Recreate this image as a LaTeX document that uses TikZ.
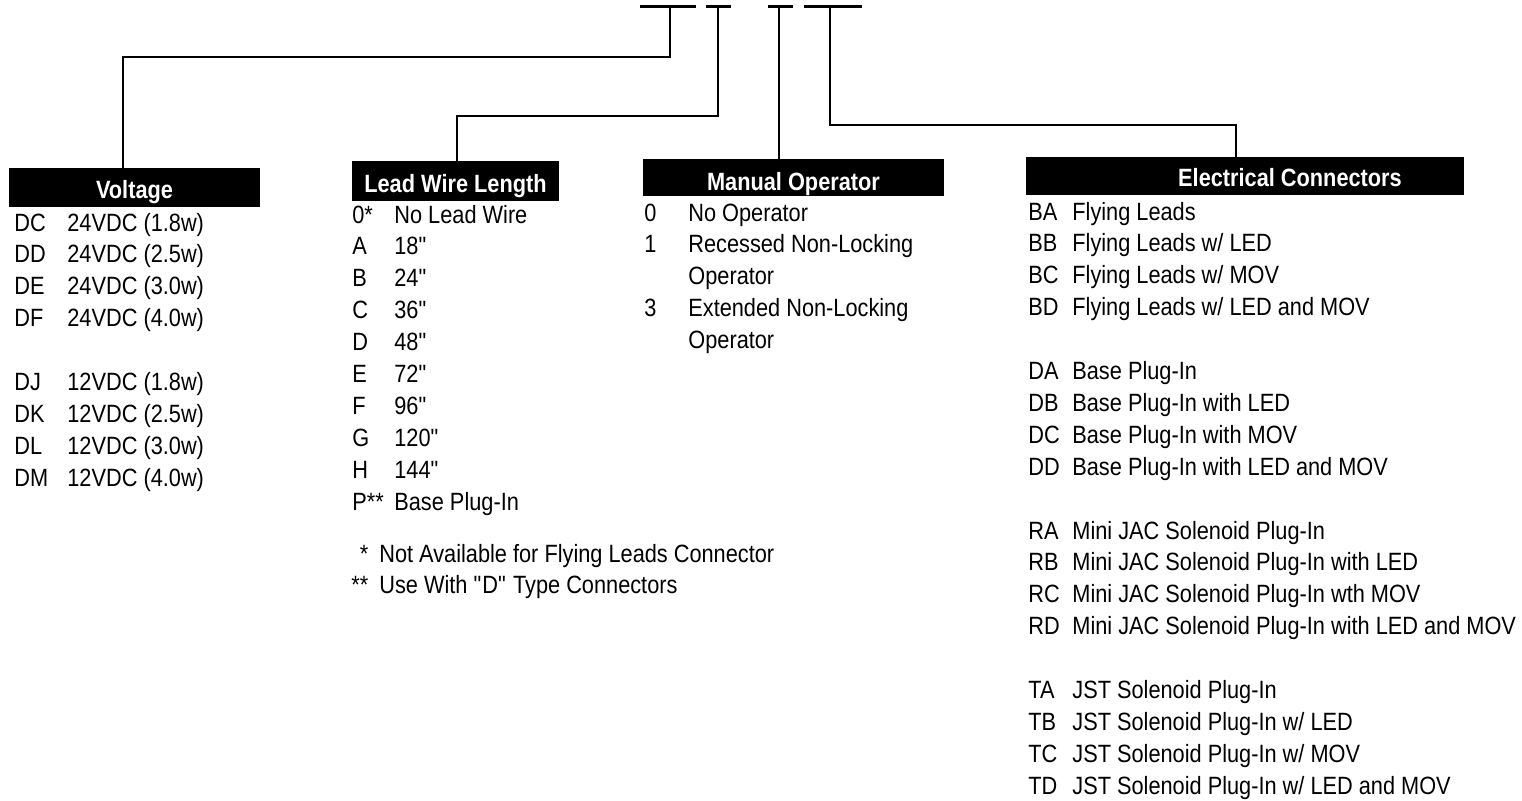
\documentclass[tikz,border=0pt]{standalone}
\usepackage{fontspec}
\setmainfont{Liberation Sans}[FakeStretch=0.87]
\usepackage{tikz}
\usetikzlibrary{positioning}
\newcommand{\listfont}{\fontsize{12.5pt}{15.95pt}\selectfont}
\newcommand{\inch}{\textquotedbl}
\tikzstyle{header} = [rectangle, fill=black, text=white, inner sep=0pt, text depth=4.5pt, font=\listfont\bfseries]
\tikzstyle{list}   = [inner sep=0pt, anchor=base west, font=\listfont]
\tikzstyle{wire}   = [line width=1.4pt, black]

\begin{document}
\begin{tikzpicture}[x=0.5pt, y=-0.5pt]
    \useasboundingbox (0,0) rectangle (1522,800);
    % headers
    \node (volt)   [header, minimum width=125.5pt, text height=15pt]   at (134.5,187.5) {Voltage};
    \node (lead)   [header, minimum width=103.5pt, text height=15.5pt] at (455.5,181)   {Lead Wire Length};
    \node (manual) [header, minimum width=150.5pt, text height=15.5pt, text depth=3pt] at (793.5,177.5) {Manual Operator};
    \node (elec)   [header, minimum width=219pt,   text height=14.5pt] at (1245,176)    {\hspace*{45pt}Electrical Connectors};
    % lists
    \node (voltlist) [list] at (14,231) {\begin{tabular}[t]{@{}p{26.5pt}@{}l@{}}
        DC & 24VDC (1.8w)\\ DD & 24VDC (2.5w)\\ DE & 24VDC (3.0w)\\ DF & 24VDC (4.0w)\\
        & \\
        DJ & 12VDC (1.8w)\\ DK & 12VDC (2.5w)\\ DL & 12VDC (3.0w)\\ DM & 12VDC (4.0w)
    \end{tabular}};
    \node (leadlist) [list] at (352,223) {\begin{tabular}[t]{@{}p{21pt}@{}l@{}}
        0* & No Lead Wire\\ A & 18\inch\\ B & 24\inch\\ C & 36\inch\\ D & 48\inch\\
        E & 72\inch\\ F & 96\inch\\ G & 120\inch\\ H & 144\inch\\ P** & Base Plug-In
    \end{tabular}};
    \node (leadnote) [list] at (351,562) {\begin{tabular}[t]{@{}r@{\hspace{5.5pt}}l@{}}
        * & Not Available for Flying Leads Connector\\
        {**} & Use With \inch D\inch{} Type Connectors
    \end{tabular}};
    \node (manuallist) [list] at (644,221) {\begin{tabular}[t]{@{}p{22pt}@{}l@{}}
        0 & No Operator\\ 1 & Recessed Non-Locking\\ & Operator\\
        3 & Extended Non-Locking\\ & Operator
    \end{tabular}};
    \node (eleclist) [list] at (1028,220) {\begin{tabular}[t]{@{}p{22pt}@{}l@{}}
        BA & Flying Leads\\ BB & Flying Leads w/ LED\\ BC & Flying Leads w/ MOV\\ BD & Flying Leads w/ LED and MOV\\
        & \\
        DA & Base Plug-In\\ DB & Base Plug-In with LED\\ DC & Base Plug-In with MOV\\ DD & Base Plug-In with LED and MOV\\
        & \\
        RA & Mini JAC Solenoid Plug-In\\ RB & Mini JAC Solenoid Plug-In with LED\\ RC & Mini JAC Solenoid Plug-In wth MOV\\ RD & Mini JAC Solenoid Plug-In with LED and MOV\\
        & \\
        TA & JST Solenoid Plug-In\\ TB & JST Solenoid Plug-In w/ LED\\ TC & JST Solenoid Plug-In w/ MOV\\ TD & JST Solenoid Plug-In w/ LED and MOV
    \end{tabular}};
    % catalog number ticks
    \coordinate (tickV) at (670,6.5);
    \coordinate (tickL) at (718,6.5);
    \coordinate (tickM) at (779,6.5);
    \coordinate (tickE) at (830,6.5);
    \coordinate (bendV) at (123,57);
    \coordinate (bendL) at (457,116);
    \coordinate (bendE) at (1236,125);
    \draw [wire] (tickV) ++(-30,0) -- ++(56,0);
    \draw [wire] (tickL) ++(-12,0) -- ++(25,0);
    \draw [wire] (tickM) ++(-11,0) -- ++(25,0);
    \draw [wire] (tickE) ++(-26,0) -- ++(58,0);
    % wires
    \draw [wire] (tickV) |- (bendV) -- (bendV |- volt.north);
    \draw [wire] (tickL) |- (bendL) -- (bendL |- lead.north);
    \draw [wire] (tickM) -- (tickM |- manual.north);
    \draw [wire] (tickE) |- (bendE) -- (bendE |- elec.north);
\end{tikzpicture}
\end{document}
